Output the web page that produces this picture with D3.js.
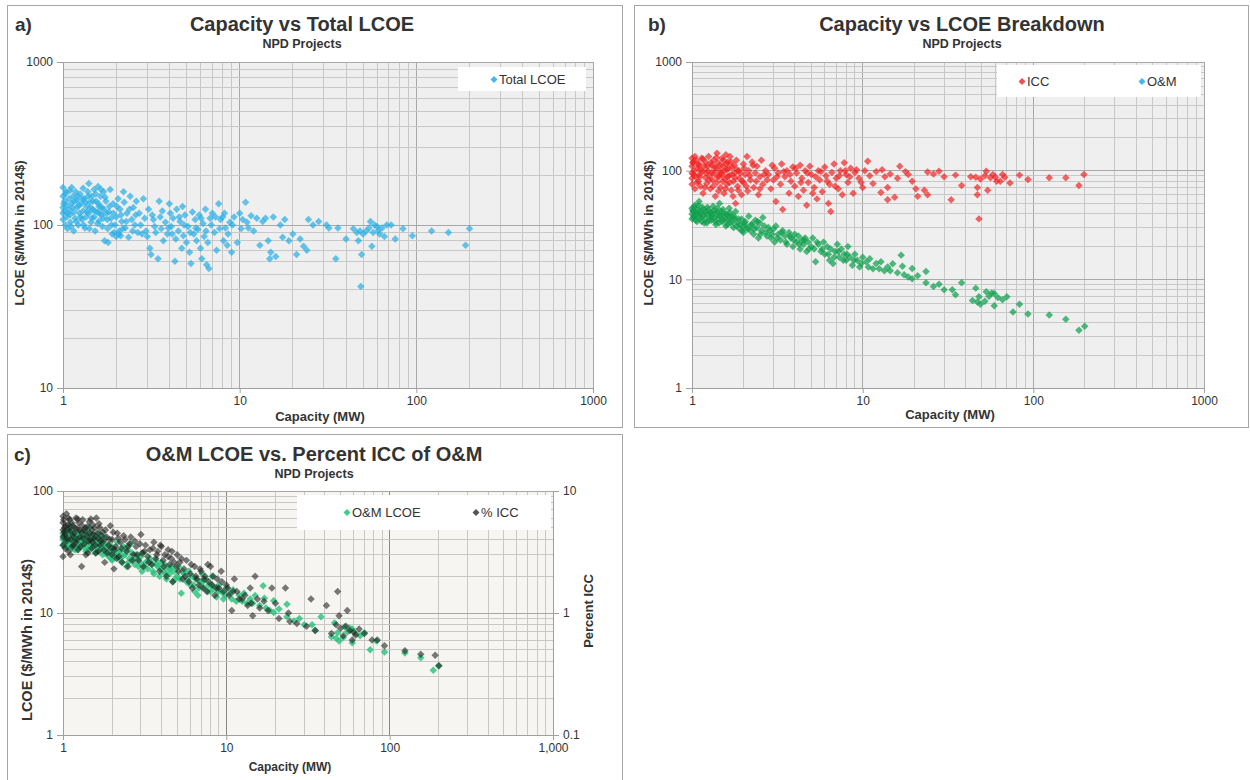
<!DOCTYPE html>
<html>
<head>
<meta charset="utf-8">
<script src="https://cdn.jsdelivr.net/npm/d3@7"></script>
<style>
  body { margin: 0; background: #fff; font-family: "Liberation Sans", Arial, sans-serif; }
  text { fill: #333; }
</style>
</head>
<body>
<svg id="chart" width="1250" height="780"></svg>
<script>
// [capacity MW, total LCOE $/MWh] - panel a
const totalLcoe = [
  [1.0,170],[1.0,150],[1.0,128],[1.0,118],[1.0,108],[1.02,140],[1.02,122],[1.03,100],[1.04,160],[1.05,112],
  [1.05,132],[1.06,95],[1.08,145],[1.08,125],[1.1,116],[1.1,104],[1.12,170],[1.12,136],[1.14,150],[1.15,120],
  [1.15,92],[1.17,110],[1.18,160],[1.2,128],[1.2,142],[1.22,100],[1.24,118],[1.25,155],[1.27,135],[1.28,108],
  [1.3,168],[1.3,122],[1.32,145],[1.33,96],[1.35,112],[1.36,130],[1.38,160],[1.4,180],[1.4,118],[1.42,138],
  [1.44,104],[1.45,150],[1.47,125],[1.5,165],[1.5,112],[1.52,92],[1.54,140],[1.56,120],[1.58,172],[1.6,130],
  [1.6,106],[1.63,150],[1.65,115],[1.67,98],[1.7,160],[1.7,125],[1.72,80],[1.75,140],[1.78,108],[1.8,78],
  [1.82,120],[1.85,165],[1.88,100],[1.9,88],[1.92,135],[1.95,90],[2.0,112],[2.0,85],[2.05,145],[2.08,92],
  [2.1,125],[2.12,86],[2.15,105],[2.2,160],[2.22,138],[2.25,96],[2.3,118],[2.35,84],[2.4,150],[2.45,108],
  [2.5,128],[2.55,100],[2.6,140],[2.65,90],[2.7,118],[2.8,88],[2.85,145],[2.9,110],[3.0,85],[3.05,125],
  [3.1,72],[3.15,66],[3.2,115],[3.3,98],[3.35,90],[3.45,62],[3.5,140],[3.55,112],[3.6,95],[3.7,80],
  [3.8,104],[3.9,88],[4.0,135],[4.05,118],[4.1,98],[4.2,110],[4.3,60],[4.35,82],[4.4,125],[4.5,92],
  [4.6,105],[4.7,72],[4.75,130],[4.8,86],[4.9,115],[5.0,78],[5.1,98],[5.2,68],[5.3,58],[5.4,120],
  [5.5,88],[5.6,108],[5.7,80],[5.8,94],[5.9,115],[6.0,72],[6.1,62],[6.2,102],[6.3,85],[6.4,125],
  [6.5,57],[6.6,78],[6.7,54],[6.8,110],[7.0,118],[7.2,90],[7.4,70],[7.6,135],[7.8,108],[8.0,112],
  [8.1,80],[8.3,96],[8.5,75],[8.8,104],[9.0,68],[9.3,112],[9.7,78],[10.0,118],[10.4,108],[10.8,138],
  [11.2,96],[11.6,114],[12.0,92],[13.0,75],[13.5,105],[14.0,110],[14.5,80],[14.8,62],[15.0,68],[15.5,112],
  [16.0,64],[17.0,100],[17.5,84],[18.0,108],[19.0,80],[20.0,88],[21.0,66],[22.0,82],[23.0,74],[24.0,70],
  [24.5,108],[26.0,100],[28.0,105],[31.0,100],[32.0,96],[35.0,62],[36.0,96],[40.0,82],[44.0,95],[46.0,90],
  [47.0,80],[48.0,92],[48.5,42],[49.0,66],[50.0,88],[52.0,92],[54.0,96],[55.0,105],[56.0,74],[57.0,90],
  [58.0,100],[60.0,98],[61.0,93],[62.0,88],[64.0,96],[66.0,85],[68.0,100],[72.0,100],[76.0,82],[84.0,95],
  [95.0,86],[122.0,92],[152.0,90],[190.0,75],[200.0,95],
  [1.01,135],[1.03,155],[1.06,118],[1.09,162],[1.11,98],[1.13,128],[1.16,140],[1.19,105],[1.21,150],[1.23,132],
  [1.26,112],[1.29,145],[1.31,100],[1.34,138],[1.37,120],[1.39,150],[1.41,95],[1.43,128],[1.46,110],[1.48,140],
  [1.51,122],[1.53,155],[1.57,102],[1.59,135],[1.61,118],[1.64,165],[1.66,128],[1.69,110],[1.73,148],[1.76,118],
  [1.79,95],[1.83,130],[1.87,110],[1.93,118],[1.97,100],[2.02,130],[2.07,88],[2.13,115],[2.18,95],[2.28,105],
  [2.38,125],[2.48,92],[2.58,115],[2.75,100],[2.95,92],[3.25,108],[3.65,122],[3.95,96],[4.15,88],[4.55,112],
  [4.85,100],[5.25,90],[5.65,96],[6.05,110],[6.45,92],[6.9,100],[7.3,112],[7.7,95],[8.2,118],[8.6,88],
  [9.1,100],[10.2,95],[11.0,104],[12.5,110]
];

// [capacity MW, ICC LCOE $/MWh] - panel b
const iccLcoe = [
  [1.0,130],[1.0,110],[1.0,95],[1.0,85],[1.0,75],[1.02,120],[1.03,100],[1.04,68],[1.05,88],[1.06,125],
  [1.08,105],[1.09,80],[1.1,115],[1.1,92],[1.12,72],[1.14,130],[1.15,98],[1.16,62],[1.18,110],[1.2,86],
  [1.2,120],[1.22,76],[1.24,100],[1.25,135],[1.27,90],[1.28,68],[1.3,112],[1.32,82],[1.34,125],[1.35,95],
  [1.37,58],[1.38,105],[1.4,145],[1.4,78],[1.42,118],[1.44,88],[1.45,100],[1.47,70],[1.5,130],[1.5,92],
  [1.52,110],[1.54,62],[1.56,84],[1.58,140],[1.6,102],[1.6,75],[1.62,120],[1.65,90],[1.67,135],[1.7,66],
  [1.72,108],[1.75,80],[1.78,95],[1.8,50],[1.82,125],[1.85,72],[1.88,100],[1.9,85],[1.95,60],[2.0,115],
  [2.0,78],[2.05,92],[2.1,135],[2.12,65],[2.15,100],[2.2,82],[2.25,120],[2.3,70],[2.35,95],[2.4,110],
  [2.45,60],[2.5,88],[2.55,125],[2.6,75],[2.7,100],[2.8,92],[2.9,68],[3.0,82],[3.05,105],[3.1,52],
  [3.2,95],[3.3,75],[3.35,115],[3.4,44],[3.5,88],[3.6,100],[3.7,62],[3.8,80],[3.9,108],[4.0,72],
  [4.1,95],[4.2,58],[4.3,112],[4.4,85],[4.5,66],[4.6,100],[4.7,48],[4.8,78],[4.9,110],[5.0,92],
  [5.2,70],[5.4,55],[5.5,100],[5.6,82],[5.8,64],[6.0,108],[6.1,90],[6.3,50],[6.4,75],[6.5,42],
  [6.6,96],[6.8,115],[7.0,85],[7.2,68],[7.4,100],[7.6,60],[7.8,118],[8.0,92],[8.2,78],[8.5,105],
  [8.8,62],[9.0,96],[9.5,85],[10.0,70],[10.3,100],[10.7,122],[11.0,90],[11.5,76],[12.0,98],[12.8,63],
  [13.0,102],[13.5,88],[14.0,70],[14.0,54],[14.5,93],[15.4,57],[16.0,85],[16.5,110],[17.8,98],[18.5,92],
  [19.5,80],[20.5,68],[21.0,58],[23.0,66],[24.0,60],[24.0,97],[26.0,93],[28.0,99],[30.0,88],[33.0,54],
  [35.0,91],[38.0,73],[43.0,88],[46.0,87],[47.0,70],[47.0,60],[48.0,36],[49.0,84],[52.0,90],[53.0,99],
  [54.0,66],[56.0,86],[58.0,92],[60.0,87],[61.0,80],[64.0,80],[66.0,92],[68.0,87],[73.0,77],[83.0,91],
  [93.0,83],[124.0,86],[155.0,86],[185.0,73],[198.0,92],
  [1.01,118],[1.02,92],[1.04,135],[1.07,78],[1.09,112],[1.11,88],[1.13,102],[1.16,128],[1.19,70],[1.21,95],
  [1.23,110],[1.26,82],[1.29,118],[1.31,96],[1.33,72],[1.36,108],[1.39,132],[1.41,88],[1.43,65],[1.46,112],
  [1.48,95],[1.51,80],[1.53,125],[1.55,100],[1.57,68],[1.59,115],[1.61,88],[1.64,105],[1.66,78],[1.69,120],
  [1.71,92],[1.74,58],[1.77,112],[1.79,86],[1.83,102],[1.87,66],[1.92,95],[1.97,80],[2.02,105],[2.08,72],
  [2.18,90],[2.28,112],[2.38,80],[2.5,68],[2.65,92],[2.75,82],[2.95,112],[3.15,88],[3.45,98],[3.75,92],
  [4.05,105],[4.35,78],[4.75,95],[5.1,62],[5.3,88],[5.7,98],[6.2,80],[6.9,72],[7.3,90],[7.9,100],
  [8.4,88],[9.2,102],[9.8,78]
];

// [capacity MW, O&M LCOE $/MWh] - panels b and c
const omLcoe = [
  [1.0,45],[1.0,40],[1.0,36],[1.02,42],[1.03,38],[1.04,48],[1.05,35],[1.06,41],[1.08,44],[1.1,37],
  [1.1,52],[1.12,40],[1.14,34],[1.15,46],[1.17,39],[1.2,42],[1.2,36],[1.22,33],[1.25,44],[1.27,38],
  [1.3,41],[1.3,35],[1.33,47],[1.35,37],[1.38,32],[1.4,42],[1.42,36],[1.45,50],[1.47,39],[1.5,34],
  [1.52,44],[1.55,37],[1.58,31],[1.6,40],[1.62,35],[1.65,45],[1.68,33],[1.7,38],[1.75,30],[1.78,36],
  [1.8,42],[1.85,33],[1.9,29],[1.95,36],[2.0,31],[2.0,27],[2.05,34],[2.1,30],[2.15,38],[2.2,28],
  [2.25,32],[2.3,26],[2.35,35],[2.4,30],[2.45,24],[2.5,33],[2.55,28],[2.6,37],[2.7,27],[2.8,30],
  [2.9,24],[3.0,29],[3.05,22],[3.1,31],[3.2,26],[3.3,23],[3.4,28],[3.5,25],[3.6,21],[3.7,27],
  [3.8,24],[3.9,20],[4.0,26],[4.1,22],[4.2,25],[4.3,19],[4.4,23],[4.5,21],[4.6,24],[4.7,18],
  [4.8,22],[5.0,20],[5.1,24],[5.2,19],[5.3,14.5],[5.5,21],[5.7,18],[5.9,22],[6.0,17],[6.2,20],
  [6.4,15],[6.5,19],[6.7,14],[6.9,18],[7.1,21],[7.3,16],[7.5,19],[7.8,17],[8.0,15],[8.2,20],
  [8.4,16],[8.7,13.5],[9.0,17],[9.3,15],[9.6,13],[10.0,16],[10.5,14.5],[11.0,15.5],[11.5,12.5],[12.0,14],
  [12.8,14.5],[13.4,12],[14.0,13],[15.0,13.9],[16.0,11.5],[16.8,16.7],[17.1,13.2],[17.5,11],[18.5,10.5],[19.5,12.6],
  [19.5,10.1],[21.0,10.8],[23.5,11.8],[23.5,9.3],[26.0,8.6],[28.0,9.0],[30.0,8.0],[33.5,8.0],[35.0,7.2],[38.0,9.3],
  [44.0,6.4],[46.0,8.3],[47.0,6.2],[48.0,6.9],[49.0,5.9],[52.0,6.3],[53.0,7.7],[55.0,7.0],[57.0,7.5],[59.0,7.4],
  [59.0,5.7],[62.0,6.8],[66.0,6.5],[70.0,6.9],[76.0,5.0],[83.0,5.9],[93.0,4.8],[124.0,4.7],[155.0,4.3],[185.0,3.4],
  [200.0,3.7],
  [1.01,43],[1.02,37],[1.03,46],[1.05,39],[1.07,34],[1.09,48],[1.11,42],[1.13,37],[1.16,44],[1.18,33],
  [1.21,40],[1.23,46],[1.26,35],[1.28,41],[1.31,38],[1.34,43],[1.37,34],[1.39,40],[1.41,45],[1.44,33],
  [1.46,38],[1.49,42],[1.53,35],[1.57,40],[1.61,32],[1.64,37],[1.67,41],[1.72,34],[1.76,38],[1.82,31],
  [1.87,36],[1.92,32],[1.97,28],[2.03,33],[2.12,29],[2.22,32],[2.32,29],[2.42,34],[2.52,26],[2.65,31],
  [2.75,25],[2.85,28],[2.95,26],[3.15,24],[3.35,27],[3.55,22],[3.75,25],[3.95,23],[4.25,21],[4.55,23],
  [4.85,19],[5.4,22],[5.8,19],[6.3,17],[6.8,16],[7.2,18],[7.7,15],[8.1,17],[8.9,15],[9.8,14],
  [10.8,13],[12.5,12.5],[14.5,12]
];

// [capacity MW, O&M as percent of ICC] - panel c, right axis
const pctIcc = [
  [1.0,6.2],[1.0,5.5],[1.0,4.8],[1.0,4.2],[1.0,3.6],[1.0,2.9],[1.02,5.0],[1.03,4.4],[1.05,6.5],[1.05,3.9],
  [1.07,5.3],[1.08,3.2],[1.1,4.7],[1.1,5.8],[1.12,4.0],[1.14,3.5],[1.15,5.2],[1.17,4.5],[1.2,6.0],[1.2,3.8],
  [1.22,4.9],[1.24,3.3],[1.25,5.5],[1.27,4.2],[1.3,2.4],[1.3,4.6],[1.32,5.8],[1.35,3.7],[1.37,5.0],[1.4,4.3],
  [1.42,3.1],[1.45,5.6],[1.47,4.0],[1.5,4.8],[1.5,3.4],[1.52,5.3],[1.55,4.1],[1.58,3.6],[1.6,6.0],[1.62,4.5],
  [1.65,3.2],[1.68,5.0],[1.7,3.9],[1.75,4.6],[1.78,3.3],[1.8,2.6],[1.85,4.2],[1.9,3.6],[1.95,5.2],[2.0,3.0],
  [2.0,4.0],[2.05,2.3],[2.1,3.5],[2.15,4.5],[2.2,2.9],[2.25,3.8],[2.3,2.6],[2.4,4.0],[2.45,3.2],[2.5,2.4],
  [2.55,3.7],[2.6,4.2],[2.7,3.0],[2.8,3.5],[2.9,2.7],[3.0,4.4],[3.05,3.1],[3.1,2.4],[3.2,3.6],[3.3,2.9],
  [3.4,3.3],[3.5,2.5],[3.6,3.8],[3.7,2.8],[3.8,3.2],[3.9,2.2],[4.0,3.5],[4.1,2.7],[4.2,3.0],[4.3,2.0],
  [4.4,3.3],[4.5,2.5],[4.6,2.8],[4.7,1.8],[4.8,2.6],[5.0,3.0],[5.1,2.2],[5.2,2.6],[5.4,1.9],[5.5,2.3],
  [5.7,2.7],[5.9,1.8],[6.0,2.1],[6.2,1.6],[6.4,2.4],[6.6,1.9],[6.8,1.7],[7.0,2.2],[7.2,1.6],[7.4,2.0],
  [7.6,1.5],[7.8,1.8],[8.0,2.4],[8.2,1.7],[8.5,1.4],[8.8,1.9],[9.0,1.6],[9.3,2.2],[9.6,1.5],[10.0,1.7],
  [10.4,1.4],[10.8,1.05],[11.2,1.9],[11.6,1.5],[12.0,1.3],[13.0,1.4],[13.5,1.15],[14.0,1.6],[14.5,0.95],[15.0,2.0],
  [15.5,1.3],[16.0,1.1],[17.0,1.25],[18.0,1.05],[19.0,1.6],[20.0,1.2],[21.0,0.9],[23.0,1.6],[24.0,1.0],[24.5,0.85],
  [27.0,0.82],[31.0,0.78],[33.0,1.3],[35.0,0.72],[41.0,1.15],[44.0,0.68],[47.0,0.8],[48.0,1.5],[49.0,0.95],[50.0,0.75],
  [52.0,0.65],[54.0,0.78],[55.0,1.05],[57.0,0.72],[59.0,0.6],[60.0,0.7],[62.0,0.66],[65.0,0.74],[70.0,0.68],[78.0,0.6],
  [84.0,0.6],[93.0,0.54],[124.0,0.49],[155.0,0.46],[190.0,0.45],[200.0,0.37],
  [1.01,5.8],[1.02,4.6],[1.03,3.4],[1.04,5.2],[1.06,4.1],[1.08,6.0],[1.09,4.9],[1.11,3.0],[1.13,5.5],[1.15,4.3],
  [1.16,3.6],[1.18,5.0],[1.21,4.0],[1.23,5.9],[1.26,4.8],[1.28,3.5],[1.31,5.2],[1.33,4.1],[1.36,4.7],[1.38,3.0],
  [1.41,5.1],[1.43,3.9],[1.46,4.5],[1.48,5.9],[1.51,3.8],[1.54,4.4],[1.57,5.0],[1.59,3.1],[1.63,4.1],[1.66,5.4],
  [1.69,3.6],[1.72,4.3],[1.77,3.9],[1.82,4.8],[1.87,3.1],[1.93,4.0],[1.98,3.4],[2.03,4.6],[2.08,3.3],[2.13,2.8],
  [2.18,4.1],[2.28,3.4],[2.35,4.3],[2.5,3.5],[2.65,2.7],[2.75,3.9],[2.85,3.0],[2.95,3.7],[3.15,3.2],[3.35,2.6],
  [3.55,3.4],[3.75,3.0],[3.95,3.6],[4.15,2.4],[4.4,2.9],[4.65,3.2],[4.95,2.4],[5.3,2.8],[5.6,2.0],[6.1,2.5],
  [6.5,2.0],[6.9,2.3],[7.3,1.9],[7.7,2.5],[8.3,2.0],[8.7,1.6],[9.4,1.8],[10.2,1.6],[11.0,1.5],[12.5,1.3],
  [14.2,1.2]
];

const xTicks = [1, 10, 100, 1000];
const yTicksA = [10, 100, 1000];
const yTicksB = [1, 10, 100, 1000];
const yTicksC = [1, 10, 100];
const yTicksCRight = [0.1, 1, 10];

const svg = d3.select('#chart');
// Excel-style diamond: a square turned by 45 degrees
const diamond = d3.symbol().type(d3.symbolSquare).size(28)();
const legendDiamond = d3.symbol().type(d3.symbolSquare).size(24)();

function styleAxis(a) {
  a.select('.domain').attr('stroke', '#a0a0a0');
  a.selectAll('.tick line').attr('stroke', '#a0a0a0');
  a.selectAll('.tick text').attr('fill', '#404040')
    .style('font-size', '12px').style('font-family', '"Liberation Sans", Arial, sans-serif');
}

function drawPanel(cfg) {
  const p = cfg.plot;
  const g = svg.append('g');

  // panel frame
  g.append('rect')
    .attr('x', cfg.frame[0] + 0.5).attr('y', cfg.frame[1] + 0.5)
    .attr('width', cfg.frame[2]).attr('height', cfg.frame[3])
    .attr('fill', 'none').attr('stroke', '#a6a6a6');

  const x = d3.scaleLog().domain([1, 1000]).range([p.left, p.right]);
  const y = d3.scaleLog().domain(cfg.yDomain).range([p.bottom, p.top]);

  g.append('rect')
    .attr('x', p.left).attr('y', p.top)
    .attr('width', p.right - p.left).attr('height', p.bottom - p.top)
    .attr('fill', cfg.bg);

  // minor + major gridlines
  const grid = g.append('g').attr('shape-rendering', 'crispEdges');
  const isMajor = v => Math.abs(Math.log10(v) - Math.round(Math.log10(v))) < 1e-9;
  grid.selectAll('.gx').data(x.ticks()).join('line')
    .attr('x1', d => x(d)).attr('x2', d => x(d))
    .attr('y1', p.top).attr('y2', p.bottom)
    .attr('stroke', d => isMajor(d) ? cfg.majorX : '#c8c8c8');
  grid.selectAll('.gy').data(y.ticks()).join('line')
    .attr('y1', d => y(d)).attr('y2', d => y(d))
    .attr('x1', p.left).attr('x2', p.right)
    .attr('stroke', d => isMajor(d) ? '#a8a8a8' : '#c8c8c8');

  // axes
  styleAxis(g.append('g')
    .attr('transform', `translate(0,${p.bottom})`)
    .call(d3.axisBottom(x).tickValues(xTicks).tickFormat(cfg.xFmt || d3.format('d')).tickSize(5).tickPadding(3)));
  styleAxis(g.append('g')
    .attr('transform', `translate(${p.left},0)`)
    .call(d3.axisLeft(y).tickValues(cfg.yTicks).tickFormat(d3.format('d')).tickSize(6).tickPadding(4)));

  let y2 = null;
  if (cfg.yRight) {
    y2 = d3.scaleLog().domain(cfg.yRight.domain).range([p.bottom, p.top]);
    styleAxis(g.append('g')
      .attr('transform', `translate(${p.right},0)`)
      .call(d3.axisRight(y2).tickValues(cfg.yRight.ticks).tickFormat(d3.format('')).tickSize(6).tickPadding(4)));
  }

  // series
  cfg.series.forEach(s => {
    const ys = s.right ? y2 : y;
    g.append('g').selectAll('path').data(s.data).join('path')
      .attr('d', diamond)
      .attr('transform', d => `translate(${x(d[0])},${ys(d[1])}) rotate(45)`)
      .attr('fill', s.color)
      .attr('fill-opacity', s.opacity);
  });

  // legend
  const lg = cfg.legend;
  g.append('rect')
    .attr('x', lg.box[0]).attr('y', lg.box[1])
    .attr('width', lg.box[2]).attr('height', lg.box[3])
    .attr('fill', '#fff');
  lg.items.forEach(it => {
    g.append('path').attr('d', legendDiamond)
      .attr('transform', `translate(${it.x},${lg.baseline - 4.5}) rotate(45)`)
      .attr('fill', it.color);
    g.append('text')
      .attr('x', it.x + 5).attr('y', lg.baseline)
      .attr('fill', '#404040')
      .style('font-size', '13px')
      .text(it.label);
  });

  // titles
  g.append('text').attr('x', cfg.tag[0]).attr('y', cfg.tag[1])
    .style('font-size', '19px').style('font-weight', 'bold').attr('fill', '#1a1a1a').text(cfg.tagText);
  g.append('text').attr('x', cfg.titleX).attr('y', cfg.titleY)
    .attr('text-anchor', 'middle')
    .style('font-size', '20px').style('font-weight', 'bold').attr('fill', '#1a1a1a').text(cfg.title);
  g.append('text').attr('x', cfg.titleX).attr('y', cfg.titleY + 17)
    .attr('text-anchor', 'middle')
    .style('font-size', '12.5px').style('font-weight', 'bold').attr('fill', '#1a1a1a').text('NPD Projects');

  g.append('text').attr('x', cfg.xLabel[0]).attr('y', cfg.xLabel[1])
    .attr('text-anchor', 'middle')
    .style('font-size', cfg.xLabelSize || '13px').style('font-weight', 'bold').attr('fill', '#262626')
    .text('Capacity (MW)');
  g.append('text')
    .attr('transform', `translate(${cfg.yLabel[0]},${cfg.yLabel[1]}) rotate(-90)`)
    .attr('text-anchor', 'middle')
    .style('font-size', cfg.yLabelSize || '13px').style('font-weight', 'bold').attr('fill', '#262626')
    .text('LCOE ($/MWh in 2014$)');
  if (cfg.yRight) {
    g.append('text')
      .attr('transform', `translate(${cfg.yRight.label[0]},${cfg.yRight.label[1]}) rotate(-90)`)
      .attr('text-anchor', 'middle')
      .style('font-size', '13px').style('font-weight', 'bold').attr('fill', '#262626')
      .text('Percent ICC');
  }
}

// a) Capacity vs Total LCOE
drawPanel({
  frame: [7, 5, 615, 422],
  plot: { left: 63, right: 593, top: 62, bottom: 388 },
  bg: '#efefef', majorX: '#a8a8a8',
  yDomain: [10, 1000], yTicks: yTicksA,
  series: [{ data: totalLcoe, color: '#2aaee4', opacity: 0.72 }],
  legend: { box: [458, 67, 128, 24], baseline: 84,
            items: [{ x: 494, label: 'Total LCOE', color: '#45b8e8' }] },
  tag: [15, 31], tagText: 'a)',
  title: 'Capacity vs Total LCOE', titleX: 302, titleY: 31,
  xLabel: [320, 421], yLabel: [24, 233]
});

// b) Capacity vs LCOE Breakdown
drawPanel({
  frame: [634, 5, 614, 422],
  plot: { left: 692, right: 1204, top: 62, bottom: 388 },
  bg: '#efefef', majorX: '#a8a8a8',
  yDomain: [1, 1000], yTicks: yTicksB,
  series: [
    { data: iccLcoe, color: '#f21d1d', opacity: 0.68 },
    { data: omLcoe, color: '#0e9f4c', opacity: 0.72 }
  ],
  legend: { box: [997, 65, 204, 32], baseline: 86,
            items: [
              { x: 1022, label: 'ICC', color: '#f05050' },
              { x: 1142, label: 'O&M', color: '#45b8e8' }
            ] },
  tag: [648, 31], tagText: 'b)',
  title: 'Capacity vs LCOE Breakdown', titleX: 962, titleY: 31,
  xLabel: [950, 419], yLabel: [653, 233]
});

// c) O&M LCOE vs. Percent ICC of O&M
drawPanel({
  frame: [7, 434, 615, 360],
  plot: { left: 63, right: 553, top: 491, bottom: 735 },
  bg: '#f6f5f1', majorX: '#8a8a8a',
  yDomain: [1, 100], yTicks: yTicksC,
  xFmt: d3.format(','),
  yRight: { domain: [0.1, 10], ticks: yTicksCRight, label: [593, 611] },
  series: [
    { data: omLcoe, color: '#27c27a', opacity: 0.8 },
    { data: pctIcc, color: '#1c1c1c', opacity: 0.58, right: true }
  ],
  legend: { box: [297, 495, 254, 35], baseline: 517,
            items: [
              { x: 347, label: 'O&M LCOE', color: '#3ccf8a' },
              { x: 476, label: '% ICC', color: '#555' }
            ] },
  tag: [14, 461], tagText: 'c)',
  title: 'O&M LCOE vs. Percent ICC of O&M', titleX: 314, titleY: 461,
  xLabel: [290, 771], xLabelSize: '12px', yLabel: [32, 640], yLabelSize: '14.5px'
});
</script>
</body>
</html>
